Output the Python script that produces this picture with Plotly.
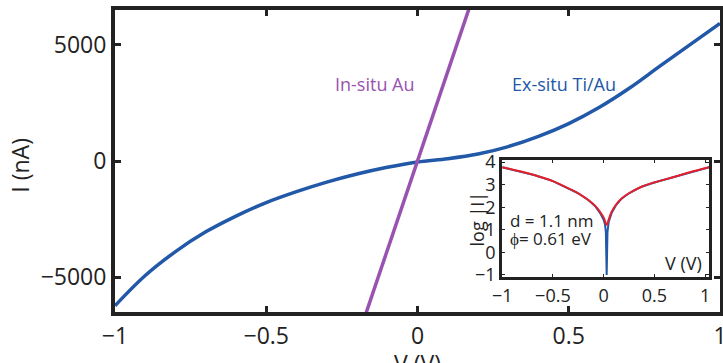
import plotly.graph_objects as go

# ---- data ----
V_exsitu = [-1.0, -0.9, -0.8, -0.7, -0.6, -0.5, -0.4, -0.3, -0.2, -0.1, 0.0,
            0.1, 0.2, 0.3, 0.4, 0.5, 0.6, 0.7, 0.8, 0.9, 1.0]
I_exsitu = [-6230, -4930, -3900, -3050, -2370, -1790, -1320, -910, -560, -270, -40,
            100, 300, 620, 1060, 1610, 2300, 3130, 4070, 5000, 5920]

V_insitu = [-0.2, 0.2]
I_insitu = [-7700, 7700]

V_inset = [-1.0, -0.85, -0.677, -0.5, -0.348, -0.25, -0.151, -0.08, -0.036, 0.0, 0.013,
           0.022, 0.03, 0.038, 0.05, 0.079, 0.12, 0.177, 0.25, 0.374, 0.5, 0.70, 0.85, 1.04]
logI_data = [3.77, 3.62, 3.42, 3.16, 2.84, 2.62, 2.32, 2.03, 1.75, 1.45, 1.25,
             0.9, -1.0, 0.9, 1.35, 1.75, 2.08, 2.38, 2.62, 2.91, 3.1, 3.35, 3.55, 3.77]
logI_fit = [3.77, 3.62, 3.42, 3.16, 2.84, 2.62, 2.32, 2.05, 1.80, 1.55, 1.40,
            1.28, 1.22, 1.28, 1.45, 1.80, 2.10, 2.39, 2.62, 2.91, 3.1, 3.35, 3.55, 3.77]

main_xticks = [-1, -0.5, 0, 0.5, 1]
main_xlabels = ["\u22121", "\u22120.5", "0", "0.5", "1"]
main_yticks = [-5000, 0, 5000]
main_ylabels = ["\u22125000", "0", "5000"]
inset_xticks = [-1, -0.5, 0, 0.5, 1]
inset_xlabels = ["\u22121", "\u22120.5", "0", "0.5", "1"]
inset_yticks = [-1, 0, 1, 2, 3, 4]
inset_ylabels = ["\u22121", "0", "1", "2", "3", "4"]

BLUE = "#2158a8"
PURPLE = "#9a52b0"
RED = "#e5202b"
FONT = "Open Sans"

fig = go.Figure()
fig.add_trace(go.Scatter(x=V_exsitu, y=I_exsitu, mode="lines", line=dict(color=BLUE, width=3.5),
                         line_shape="spline", xaxis="x", yaxis="y"))
fig.add_trace(go.Scatter(x=V_insitu, y=I_insitu, mode="lines", line=dict(color=PURPLE, width=3.5),
                         xaxis="x", yaxis="y"))
fig.add_trace(go.Scatter(x=V_inset, y=logI_data, mode="lines", line=dict(color=BLUE, width=2),
                         xaxis="x2", yaxis="y2"))
fig.add_trace(go.Scatter(x=V_inset, y=logI_fit, mode="lines", line=dict(color=RED, width=2),
                         line_shape="spline", xaxis="x2", yaxis="y2"))

axis_common = dict(showline=True, linecolor="#222", mirror="ticks", ticks="inside",
                   tickcolor="#222", showgrid=False, zeroline=False, automargin=False,
                   ticklabeloverflow="allow")

fig.update_layout(
    width=723, height=363,
    margin=dict(l=115, r=3, t=10, b=51, autoexpand=False),
    paper_bgcolor="white", plot_bgcolor="white",
    showlegend=False,
    font=dict(family=FONT, color="#222"),
    xaxis=dict(domain=[0, 1], range=[-1, 1], tickvals=main_xticks, ticktext=main_xlabels,
               linewidth=4, ticklen=6, tickwidth=3, tickfont=dict(size=23), **axis_common),
    yaxis=dict(domain=[0, 1], range=[-6500, 6500], tickvals=main_yticks, ticktext=main_ylabels,
               linewidth=4, ticklen=6, tickwidth=3, tickfont=dict(size=23), **axis_common),
    xaxis2=dict(domain=[0.640, 0.982], anchor="y2", range=[-1, 1.04], tickvals=inset_xticks,
                ticktext=inset_xlabels, linewidth=3, ticklen=3, tickwidth=1,
                tickfont=dict(size=18), **axis_common),
    yaxis2=dict(domain=[0.116, 0.503], anchor="x2", range=[-1.09, 4.09], tickvals=inset_yticks,
                ticktext=inset_ylabels, linewidth=3, ticklen=3, tickwidth=1,
                tickfont=dict(size=18), **axis_common),
    shapes=[dict(type="rect", xref="x2 domain", yref="y2 domain", x0=0, x1=1, y0=0, y1=1,
                 fillcolor="white", line=dict(width=0), layer="below")],
    annotations=[
        dict(text="In-situ Au", x=-0.142, y=3300, xref="x", yref="y", showarrow=False,
             font=dict(size=18, color=PURPLE)),
        dict(text="Ex-situ Ti/Au", x=0.483, y=3300, xref="x", yref="y", showarrow=False,
             font=dict(size=18, color=BLUE)),
        dict(text="I (nA)", x=-0.157, y=-200, xref="x domain", yref="y", showarrow=False,
             textangle=-90, font=dict(size=23), xanchor="center"),
        dict(text="V (V)", x=0, y=-0.11, xref="x", yref="paper", showarrow=False,
             yanchor="top", font=dict(size=23)),
        dict(text="log |I|", x=-0.19, y=1.5, xref="x2 domain", yref="y2", showarrow=False,
             textangle=-90, font=dict(size=18)),
        dict(text="V (V)", x=0.79, y=-0.47, xref="x2", yref="y2", showarrow=False,
             font=dict(size=18)),
        dict(text="d = 1.1 nm", x=-0.94, y=1.42, xref="x2", yref="y2",
             showarrow=False, xanchor="left", font=dict(size=17)),
        dict(text="\u03d5= 0.61 eV", x=-0.94, y=0.6, xref="x2", yref="y2",
             showarrow=False, xanchor="left", font=dict(size=17)),
    ],
)

fig.write_html("out.html")
